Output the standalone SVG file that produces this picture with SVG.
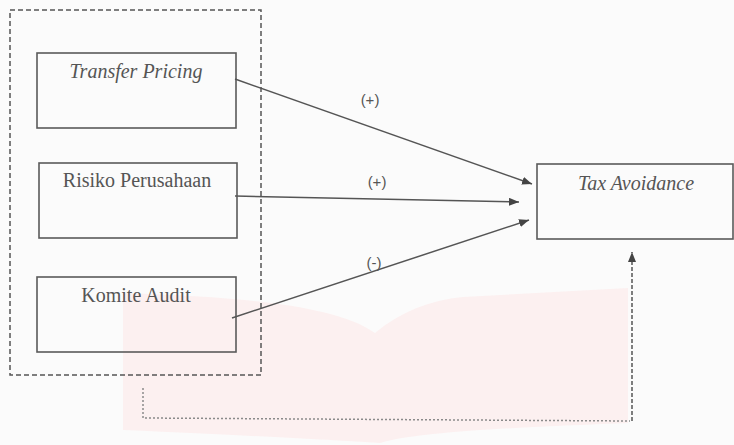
<svg xmlns="http://www.w3.org/2000/svg" width="734" height="445" viewBox="0 0 734 445">
<style>
.box{fill:none;stroke:#5a5a5a;stroke-width:1.6}
.lbl{font-size:20px;fill:#555;text-anchor:middle}
.it{font-style:italic}
.sign{font-size:15px;fill:#555;text-anchor:middle}
.conn{fill:none;stroke:#555;stroke-width:1.5}
</style>
<defs>
<marker id="ah" viewBox="0 0 10 8" refX="10" refY="4" markerWidth="10" markerHeight="8" markerUnits="userSpaceOnUse" orient="auto">
<path d="M0,0 L10,4 L0,8 Z" fill="#444"/>
</marker>
</defs>
<rect width="734" height="445" fill="#fbfbfb"/>
<path d="M123,293 C200,296 330,300 375,333 C400,312 430,300 463,297 L628,288 L628,423 C560,426 420,430 380,443 C330,440 260,436 123,430 Z" fill="#fcf0f0"/>
<g id="group-box">
<rect x="10" y="10" width="251" height="365" fill="none" stroke="#555" stroke-width="1.5" stroke-dasharray="5 3"/>
</g>
<g id="transfer-pricing">
<rect class="box" x="37" y="53" width="199" height="75"/>
<text class="lbl it" font-family="'Liberation Serif', 'DejaVu Serif', serif" x="136" y="78">Transfer Pricing</text>
</g>
<g id="risiko-perusahaan">
<rect class="box" x="39" y="163" width="198" height="75"/>
<text class="lbl" font-family="'Liberation Serif', 'DejaVu Serif', serif" x="137" y="187">Risiko Perusahaan</text>
</g>
<g id="komite-audit">
<rect class="box" x="37" y="277" width="199" height="75"/>
<text class="lbl" font-family="'Liberation Serif', 'DejaVu Serif', serif" x="136" y="302">Komite Audit</text>
</g>
<g id="tax-avoidance">
<rect class="box" x="537" y="164" width="196" height="75"/>
<text class="lbl it" font-family="'Liberation Serif', 'DejaVu Serif', serif" x="636" y="190">Tax Avoidance</text>
</g>
<g id="connectors">
<line class="conn" x1="235" y1="79" x2="532" y2="184" marker-end="url(#ah)"/>
<line class="conn" x1="235" y1="196" x2="519" y2="202" marker-end="url(#ah)"/>
<line class="conn" x1="232" y1="318" x2="529" y2="220" marker-end="url(#ah)"/>
<polyline points="143,388 143,418 630,421" fill="none" stroke="#8a8a8a" stroke-width="1.5" stroke-dasharray="2 2"/>
<line x1="632" y1="421" x2="632" y2="252" stroke="#555" stroke-width="1.5" stroke-dasharray="4 2" marker-end="url(#ah)"/>
<text class="sign" font-family="'Liberation Sans', Arial, sans-serif" x="370" y="105">(+)</text>
<text class="sign" font-family="'Liberation Sans', Arial, sans-serif" x="377" y="187">(+)</text>
<text class="sign" font-family="'Liberation Sans', Arial, sans-serif" x="374" y="268">(-)</text>
</g>
</svg>
